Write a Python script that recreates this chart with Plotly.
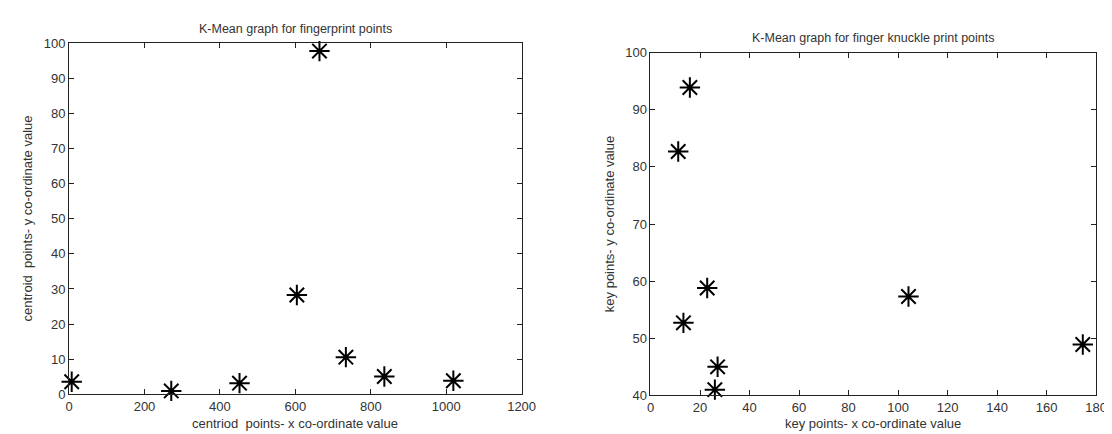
import plotly.graph_objects as go

# Left chart: fingerprint centroid points
fp_x = [7, 271, 452, 604, 664, 734, 836, 1019]
fp_y = [3.6, 1.0, 3.2, 28.3, 97.7, 10.6, 5.1, 3.9]

# Right chart: finger knuckle print key points
fk_x = [15.9, 11.2, 22.9, 13.3, 27.1, 26.0, 104.2, 174.6]
fk_y = [93.9, 82.7, 58.8, 52.7, 45.0, 41.0, 57.3, 48.9]

left_xticks = [0, 200, 400, 600, 800, 1000, 1200]
left_yticks = [0, 10, 20, 30, 40, 50, 60, 70, 80, 90, 100]
right_xticks = [0, 20, 40, 60, 80, 100, 120, 140, 160, 180]
right_yticks = [40, 50, 60, 70, 80, 90, 100]

W, H = 1112, 434
FONT = "Liberation Sans, Arial, sans-serif"
TXT = "#333333"

marker = dict(symbol="asterisk-open", size=17, line=dict(width=2, color="black"), color="black")

fig = go.Figure()
fig.add_trace(go.Scatter(x=fp_x, y=fp_y, mode="markers", marker=marker,
                         xaxis="x", yaxis="y", cliponaxis=False, showlegend=False))
fig.add_trace(go.Scatter(x=fk_x, y=fk_y, mode="markers", marker=marker,
                         xaxis="x2", yaxis="y2", cliponaxis=False, showlegend=False))

def ax(domain, rng, ticks, anchor):
    return dict(domain=domain, range=rng, tickvals=ticks, ticktext=[str(t) for t in ticks],
                showgrid=False, zeroline=False, showline=True, linecolor="#222222", linewidth=1,
                mirror="ticks", ticks="inside", ticklen=5, tickcolor="#222222",
                tickfont=dict(family=FONT, size=13, color=TXT), anchor=anchor)

L1, R1, T1, B1 = 58, 518, 29, 393
L2, R2, T2, B2 = 649, 1102, 39, 394

fig.update_layout(
    width=W, height=H,
    margin=dict(l=0, r=0, t=0, b=0),
    paper_bgcolor="white", plot_bgcolor="white",
    xaxis=ax([L1 / W, R1 / W], [0, 1200], left_xticks, "y"),
    yaxis=ax([1 - B1 / H, 1 - T1 / H], [0, 100], left_yticks, "x"),
    xaxis2=ax([L2 / W, R2 / W], [0, 180], right_xticks, "y2"),
    yaxis2=ax([1 - B2 / H, 1 - T2 / H], [40, 100], right_yticks, "x2"),
)

def ann(text, x, y, angle=0, size=13):
    fig.add_annotation(text=text, x=x / W, y=1 - y / H, xref="paper", yref="paper",
                       showarrow=False, textangle=angle, xanchor="center", yanchor="middle",
                       font=dict(family=FONT, size=size, color=TXT))

ann("K-Mean graph for fingerprint points", (L1 + R1) / 2, 14, size=12.5)
ann("K-Mean graph for finger knuckle print points", (L2 + R2) / 2, 24, size=12.5)
ann("centriod&nbsp;&nbsp;points- x co-ordinate value", (L1 + R1) / 2, 423)
ann("key points- x co-ordinate value", (L2 + R2) / 2, 423)
ann("centroid&nbsp;&nbsp;points- y co-ordinate value", 16, (T1 + B1) / 2, angle=-90)
ann("key points- y co-ordinate value", 607, (T2 + B2) / 2, angle=-90)

fig.write_html("out.html")
